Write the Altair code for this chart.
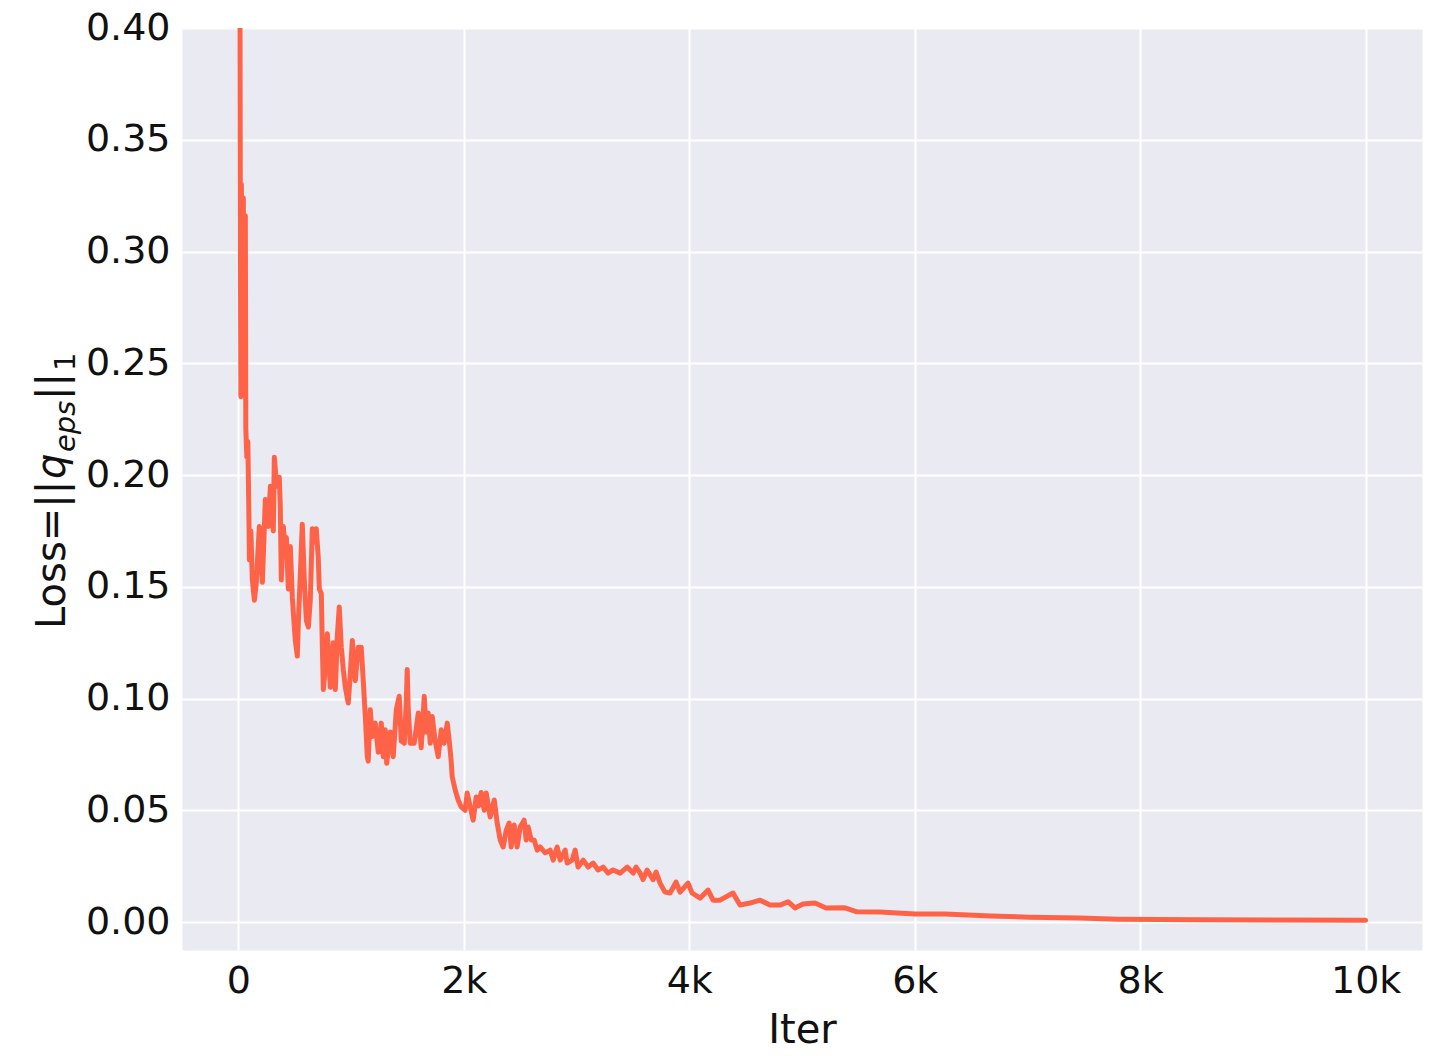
import altair as alt
import pandas as pd

# Early phase (iterations 0 - ~1000)
iters_a = [0, 13, 18, 22, 27, 35, 44, 53, 62, 66]
loss_a = [0.620, 0.450, 0.300, 0.235, 0.330, 0.236, 0.324, 0.250, 0.316, 0.221]
iters_b = [75, 84, 93, 98, 111, 124, 142, 160, 168, 186]
loss_b = [0.208, 0.215, 0.184, 0.162, 0.175, 0.153, 0.144, 0.152, 0.160, 0.177]
iters_c = [199, 213, 239, 266, 284, 310, 319, 332, 346, 363]
loss_c = [0.165, 0.152, 0.189, 0.177, 0.195, 0.175, 0.208, 0.200, 0.195, 0.199]
iters_d = [372, 381, 399, 417, 426, 443, 461, 479, 505, 523]
loss_d = [0.186, 0.153, 0.177, 0.165, 0.172, 0.149, 0.168, 0.145, 0.126, 0.119]
iters_e = [532, 550, 567, 585, 603, 621, 638, 656, 674, 691]
loss_e = [0.134, 0.156, 0.178, 0.153, 0.135, 0.132, 0.144, 0.176, 0.170, 0.176]
iters_f = [709, 718, 736, 745, 754, 771, 789, 802, 816, 842]
loss_f = [0.163, 0.149, 0.147, 0.123, 0.104, 0.114, 0.129, 0.118, 0.105, 0.125]
iters_g = [860, 878, 895, 913, 931, 949, 975, 993, 1011, 1037]
loss_g = [0.104, 0.128, 0.141, 0.123, 0.113, 0.105, 0.098, 0.111, 0.126, 0.108]
# Plateau (~1000 - ~1900)
iters_h = [1064, 1090, 1108, 1126, 1144, 1152, 1170, 1188, 1215, 1241]
loss_h = [0.123, 0.123, 0.108, 0.092, 0.074, 0.072, 0.095, 0.083, 0.089, 0.076]
iters_i = [1268, 1285, 1303, 1316, 1348, 1374, 1401, 1427, 1445, 1472]
loss_i = [0.089, 0.074, 0.086, 0.071, 0.085, 0.074, 0.095, 0.101, 0.081, 0.080]
iters_j = [1489, 1498, 1507, 1525, 1560, 1596, 1622, 1649, 1667, 1684]
loss_j = [0.098, 0.113, 0.095, 0.080, 0.080, 0.0935, 0.078, 0.101, 0.085, 0.0935]
iters_k = [1702, 1720, 1746, 1773, 1800, 1826, 1853, 1871, 1888, 1897]
loss_k = [0.080, 0.092, 0.081, 0.074, 0.086, 0.080, 0.089, 0.081, 0.072, 0.065]
# Decay (~1900 - ~4600)
iters_l = [1924, 1950, 1977, 2012, 2030, 2057, 2083, 2110, 2132, 2154]
loss_l = [0.059, 0.0546, 0.0515, 0.050, 0.0577, 0.0515, 0.0456, 0.056, 0.052, 0.058]
iters_m = [2181, 2199, 2234, 2270, 2296, 2323, 2349, 2376, 2402, 2420]
loss_m = [0.050, 0.0577, 0.047, 0.0546, 0.0443, 0.0367, 0.0336, 0.041, 0.0443, 0.0336]
iters_n = [2447, 2473, 2500, 2535, 2553, 2571, 2598, 2624, 2651, 2677]
loss_n = [0.0434, 0.0336, 0.0425, 0.0456, 0.0367, 0.0425, 0.0367, 0.0367, 0.0322, 0.0336]
iters_o = [2722, 2766, 2793, 2828, 2855, 2899, 2917, 2961, 2988, 3014]
loss_o = [0.031, 0.0322, 0.0277, 0.0336, 0.0277, 0.0322, 0.0264, 0.0277, 0.0322, 0.0246]
iters_p = [3059, 3103, 3147, 3191, 3236, 3280, 3324, 3387, 3449, 3502]
loss_p = [0.0277, 0.0246, 0.0264, 0.0233, 0.0246, 0.0219, 0.0233, 0.0219, 0.0246, 0.0219]
iters_q = [3528, 3564, 3590, 3626, 3679, 3706, 3741, 3785, 3830, 3883]
loss_q = [0.0246, 0.0219, 0.019, 0.0233, 0.019, 0.0224, 0.0174, 0.0134, 0.013, 0.0179]
iters_r = [3918, 3989, 4025, 4096, 4167, 4211, 4273, 4388, 4450, 4539]
loss_r = [0.0134, 0.0174, 0.013, 0.0107, 0.0143, 0.0098, 0.0098, 0.013, 0.0076, 0.0085]
# Tail (~4600 - 10000)
iters_s = [4628, 4716, 4805, 4876, 4938, 5009, 5115, 5213, 5381, 5488]
loss_s = [0.0098, 0.0076, 0.0076, 0.0091, 0.0063, 0.0081, 0.0085, 0.0063, 0.0064, 0.0046]
iters_t = [5691, 6002, 6268, 6676, 7021, 7465, 7801, 8555, 9300, 10000]
loss_t = [0.0045, 0.0036, 0.0036, 0.0027, 0.0022, 0.0018, 0.0013, 0.0010, 0.0009, 0.0008]

x_ticks = [0, 2000, 4000, 6000, 8000, 10000]
y_ticks = [0.0, 0.05, 0.10, 0.15, 0.20, 0.25, 0.30, 0.35, 0.40]

iters = (iters_a + iters_b + iters_c + iters_d + iters_e + iters_f + iters_g + iters_h + iters_i + iters_j
         + iters_k + iters_l + iters_m + iters_n + iters_o + iters_p + iters_q + iters_r + iters_s + iters_t)
loss = (loss_a + loss_b + loss_c + loss_d + loss_e + loss_f + loss_g + loss_h + loss_i + loss_j
        + loss_k + loss_l + loss_m + loss_n + loss_o + loss_p + loss_q + loss_r + loss_s + loss_t)

df = pd.DataFrame({"iter": iters, "loss": loss})

TEXT_COLOR = "#111111"
FONT = "DejaVu Sans"

line = alt.Chart(df).mark_line(
    color="#FF6347", strokeWidth=5, clip=True, strokeJoin="round", strokeCap="round"
).encode(
    x=alt.X("iter:Q",
            scale=alt.Scale(domain=[-500, 10500], nice=False, zero=False),
            axis=alt.Axis(title="Iter", values=x_ticks,
                          labelExpr="datum.value == 0 ? '0' : (datum.value / 1000) + 'k'",
                          labelPadding=12, titlePadding=10)),
    y=alt.Y("loss:Q",
            scale=alt.Scale(domain=[-0.0125, 0.40], nice=False, zero=False),
            axis=alt.Axis(title=None, values=y_ticks, format=".2f", labelPadding=12)),
)


def title_piece(text, x, y, size, italic=False):
    kw = dict(text=text, angle=270, align="left", baseline="alphabetic",
              font=FONT, fontSize=size, color=TEXT_COLOR)
    if italic:
        kw["fontStyle"] = "italic"
    return alt.Chart(alt.Data(values=[{"k": 1}])).mark_text(**kw).encode(
        x=alt.value(x), y=alt.value(y))


# y-axis title  Loss=||q_eps||_1  (rotated, reading bottom to top)
t1 = title_piece("Loss=||", -117, 601, 40)
t2 = title_piece("q", -117, 451, 40, italic=True)
t3 = title_piece("eps", -107, 424, 29, italic=True)
t4 = title_piece("||", -117, 372, 40)
t5 = title_piece("1", -107, 343, 29)

chart = alt.layer(line, t1, t2, t3, t4, t5).properties(
    width=1240, height=922,
    autosize=alt.AutoSizeParams(type="none"),
    padding={"left": 174, "top": 20, "right": 8, "bottom": 110},
).configure_view(
    fill="#EAEAF2", stroke="transparent"
).configure_axis(
    grid=True, gridColor="white", gridWidth=2, domain=False, ticks=False,
    labelFont=FONT, labelFontSize=38, labelColor=TEXT_COLOR,
    titleFont=FONT, titleFontSize=40, titleFontWeight="normal", titleColor=TEXT_COLOR,
)

chart.save("out.html", embed_options={"renderer": "svg", "actions": False})
